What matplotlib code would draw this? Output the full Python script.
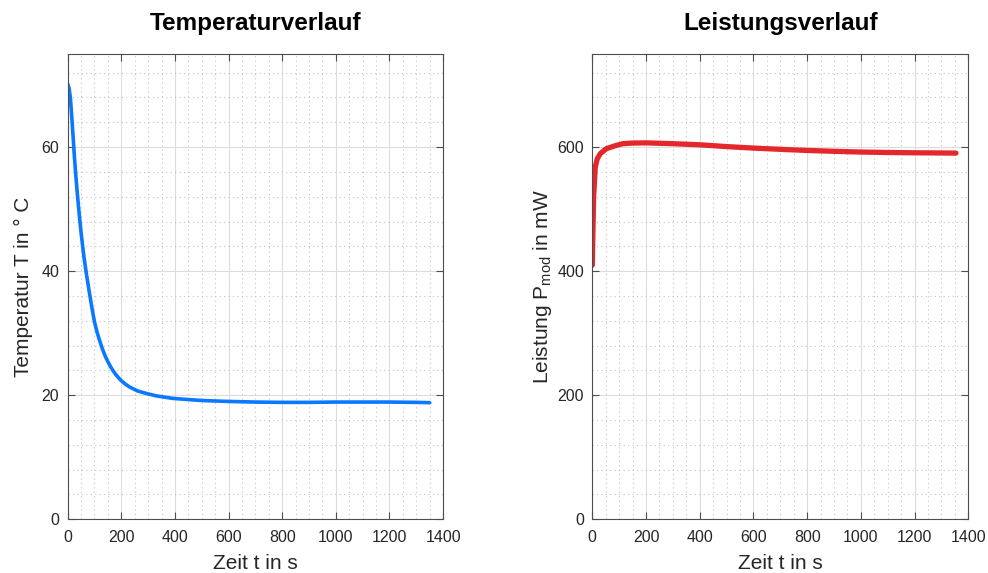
import numpy as np
import matplotlib
matplotlib.use("Agg")
import matplotlib.pyplot as plt
from matplotlib.ticker import MultipleLocator

plt.rcParams['font.family'] = ['Liberation Sans', 'DejaVu Sans']
plt.rcParams['mathtext.fontset'] = 'custom'
plt.rcParams['mathtext.rm'] = 'Liberation Sans'
plt.rcParams['mathtext.it'] = 'Liberation Sans:italic'

# Temperaturverlauf
t_temp = [0, 5, 10, 15, 20, 25, 30, 35, 40, 45, 50, 60, 70, 80, 90, 100,
          110, 120, 130, 140, 150, 160, 170, 180, 190, 200, 215, 230, 260,
          292, 330, 390, 450, 500, 600, 700, 800, 900, 1000, 1100, 1200,
          1300, 1350]
temp = [70.2, 69.5, 68.0, 65.0, 61.8, 58.5, 55.6, 53.0, 50.6, 48.3, 46.2,
        42.5, 39.5, 36.8, 34.2, 31.8, 30.1, 28.7, 27.4, 26.3, 25.4, 24.6,
        23.9, 23.3, 22.8, 22.35, 21.8, 21.35, 20.7, 20.3, 19.9, 19.5, 19.3,
        19.15, 19.0, 18.9, 18.85, 18.85, 18.9, 18.9, 18.9, 18.85, 18.8]

# Leistungsverlauf
t_pow = [0, 2.4, 4.9, 11, 18.5, 29.7, 52, 89, 114, 150, 200, 300, 400, 500,
         600, 700, 800, 900, 1000, 1100, 1200, 1300, 1354]
power = [409.7, 466, 519.6, 567.8, 581.3, 589.4, 597.4, 602.7, 605.5, 606.5,
         606.8, 605.5, 603.7, 600.8, 598.4, 596.4, 594.6, 593.2, 592.0, 591.3,
         590.8, 590.5, 590.3]

fig = plt.figure(figsize=(9.88, 5.73), dpi=100)
ax1 = fig.add_axes([0.0685, 0.0937, 0.380, 0.812])
ax2 = fig.add_axes([0.5995, 0.0937, 0.3806, 0.812])

txt = '#262626'


def style(ax, ymax, ymaj, ymin):
    ax.set_xlim(0, 1400)
    ax.set_ylim(0, ymax)
    ax.xaxis.set_major_locator(MultipleLocator(200))
    ax.xaxis.set_minor_locator(MultipleLocator(50))
    ax.yaxis.set_major_locator(MultipleLocator(ymaj))
    ax.yaxis.set_minor_locator(MultipleLocator(ymin))
    ax.grid(True, which='major', color='#dcdcdc', lw=0.8)
    ax.grid(True, which='minor', color='#c4c4c4', lw=0.8, ls=(0, (1, 3)))
    ax.set_axisbelow(True)
    ax.tick_params(which='major', direction='in', length=5, width=0.8,
                   top=True, right=True, labelsize=11.5, colors=txt,
                   color='#4d4d4d')
    ax.tick_params(axis='x', pad=8)
    ax.tick_params(axis='y', pad=6)
    ax.tick_params(which='minor', length=0)
    for s in ax.spines.values():
        s.set_color('#4d4d4d')
        s.set_linewidth(0.8)


style(ax1, 75, 20, 4)
ax1.plot(t_temp, temp, color='#0A78FF', lw=2.6, solid_capstyle='round')
ax1.set_title('Temperaturverlauf', fontsize=17.5, fontweight='bold', pad=17)
ax1.set_xlabel('Zeit t in s', fontsize=15, color=txt, labelpad=6)
ax1.set_ylabel('Temperatur T in ° C', fontsize=15, color=txt, labelpad=6)

style(ax2, 750, 200, 40)
ax2.plot(t_pow, power, color='#E3272B', lw=3.8, solid_capstyle='round')
ax2.set_title('Leistungsverlauf', fontsize=17.5, fontweight='bold', pad=17)
ax2.set_xlabel('Zeit t in s', fontsize=15, color=txt, labelpad=6)
ax2.set_ylabel('Leistung P$_\\mathrm{mod}$ in mW', fontsize=15, color=txt,
               labelpad=2)

fig.savefig('out.png', dpi=100)
